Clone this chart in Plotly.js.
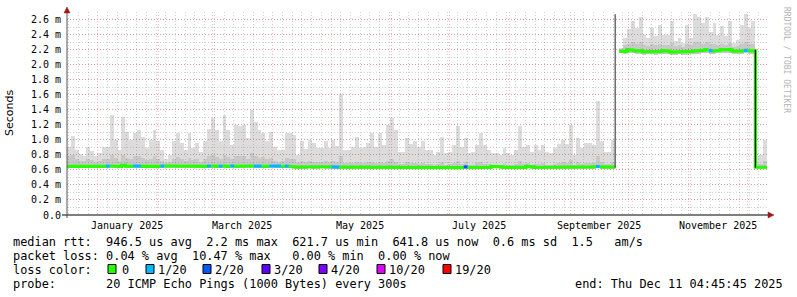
<!DOCTYPE html>
<html>
<head>
<meta charset="utf-8">
<script src="https://cdn.plot.ly/plotly-3.0.1.min.js"></script>
<style>
html,body{margin:0;padding:0;background:#fff;}
#chart{width:797px;height:297px;}
</style>
</head>
<body>
<div id="chart"></div>
<script>
// ---------------- DATA ----------------
const endTime = '2025-12-11T04:45:45';
const spanDays = 360;
const stepDays = 2;

const smokeMax = [
 0.90,1.05,0.87,0.81,0.79,0.90,0.85,0.79,0.82,0.90,
 0.90,1.33,1.00,0.87,1.30,1.10,1.00,1.09,1.13,1.04,
 0.89,1.00,1.13,0.98,0.86,0.75,0.80,0.98,1.09,0.96,
 0.87,1.09,0.89,0.96,0.84,0.98,1.15,1.29,1.13,0.98,
 1.33,1.13,0.93,1.20,1.18,1.20,1.02,1.40,1.24,1.13,
 1.09,0.98,1.11,0.91,0.87,0.87,1.09,1.09,1.07,0.80,
 0.98,0.88,1.00,0.96,0.89,0.89,0.98,0.89,1.00,0.92,
 1.61,0.87,0.86,0.90,1.04,0.89,0.90,0.96,1.09,0.91,
 1.09,0.93,1.20,1.29,1.13,0.84,0.84,1.02,0.95,0.98,
 0.91,0.98,0.87,0.86,0.80,0.84,1.04,0.83,0.84,0.93,
 1.18,0.90,1.02,0.82,0.84,0.93,1.09,0.93,0.87,0.82,
 0.82,0.80,0.89,0.82,0.80,0.87,1.18,0.90,0.93,0.84,
 0.93,0.87,0.93,0.84,0.82,0.89,0.94,1.00,0.95,1.20,
 0.80,1.02,0.89,0.96,0.96,0.93,1.51,0.99,0.84,0.84,
 1.00,null,2.22,2.36,2.47,2.58,2.49,2.63,2.40,2.36,
 2.49,2.38,2.53,2.40,2.40,2.58,2.32,2.36,2.29,2.53,
 2.36,2.67,2.64,2.56,2.64,2.44,2.56,2.40,2.51,2.38,
 2.58,2.29,2.33,2.53,2.67,2.49,2.58,0.78,0.80,1.00];

const smokeUpper = [
 0.78,0.80,0.75,0.72,0.72,0.74,0.73,0.71,0.72,0.74,
 0.74,0.80,0.76,0.72,0.80,0.76,0.74,0.78,0.78,0.76,
 0.73,0.75,0.78,0.74,0.72,0.69,0.71,0.74,0.77,0.74,
 0.72,0.76,0.73,0.74,0.71,0.74,0.78,0.80,0.77,0.74,
 0.80,0.77,0.74,0.78,0.78,0.79,0.75,0.82,0.79,0.76,
 0.77,0.74,0.76,0.72,0.71,0.72,0.76,0.75,0.74,0.70,
 0.72,0.70,0.72,0.71,0.70,0.70,0.72,0.70,0.72,0.70,
 0.78,0.69,0.69,0.69,0.71,0.69,0.69,0.70,0.71,0.69,
 0.71,0.69,0.72,0.74,0.71,0.68,0.68,0.70,0.69,0.69,
 0.68,0.69,0.68,0.68,0.67,0.68,0.70,0.67,0.68,0.69,
 0.72,0.68,0.70,0.67,0.67,0.69,0.70,0.68,0.68,0.67,
 0.67,0.67,0.68,0.67,0.67,0.68,0.72,0.68,0.69,0.67,
 0.68,0.68,0.69,0.67,0.67,0.68,0.69,0.70,0.69,0.73,
 0.67,0.70,0.68,0.69,0.69,0.69,0.78,0.70,0.68,0.68,
 0.70,null,2.20,2.26,2.28,2.30,2.28,2.30,2.26,2.25,
 2.28,2.26,2.28,2.26,2.26,2.29,2.25,2.26,2.24,2.28,
 2.26,2.30,2.30,2.28,2.30,2.27,2.28,2.26,2.28,2.26,
 2.29,2.24,2.25,2.28,2.30,2.27,2.28,0.68,0.68,0.72];

const smokeMin = [
 0.625,0.622,0.628,0.624,0.622,0.626,0.624,0.627,0.623,0.625,
 0.626,0.624,0.622,0.620,0.640,0.626,0.624,0.625,0.624,0.622,
 0.624,0.622,0.626,0.624,0.625,0.628,0.622,0.620,0.624,0.623,
 0.622,0.626,0.622,0.624,0.620,0.623,0.626,0.628,0.624,0.625,
 0.626,0.624,0.627,0.622,0.624,0.626,0.624,0.628,0.626,0.627,
 0.624,0.622,0.628,0.626,0.625,0.622,0.626,0.624,0.616,0.612,
 0.616,0.618,0.620,0.618,0.616,0.619,0.617,0.618,0.616,0.614,
 0.614,0.610,0.608,0.607,0.608,0.606,0.607,0.608,0.606,0.607,
 0.608,0.607,0.606,0.608,0.607,0.606,0.607,0.608,0.606,0.607,
 0.608,0.607,0.606,0.608,0.607,0.606,0.607,0.608,0.606,0.607,
 0.608,0.606,0.616,0.609,0.607,0.608,0.606,0.607,0.608,0.621,
 0.626,0.616,0.608,0.607,0.606,0.608,0.607,0.609,0.621,0.616,
 0.608,0.607,0.606,0.608,0.607,0.606,0.607,0.608,0.606,0.607,
 0.608,0.611,0.612,0.610,0.616,0.618,0.621,0.616,0.614,0.612,
 0.614,null,2.150,2.140,2.160,2.150,2.140,2.145,2.130,2.135,
 2.140,2.130,2.135,2.145,2.140,2.125,2.130,2.135,2.125,2.130,
 2.135,2.140,2.145,2.150,2.160,2.145,2.140,2.150,2.160,2.155,
 2.160,2.140,2.135,2.140,2.150,2.145,2.140,0.610,0.612,0.612];

const median = [
 0.648,0.645,0.650,0.647,0.644,0.648,0.646,0.649,0.645,0.647,
 0.650,0.652,0.646,0.644,0.662,0.650,0.648,0.652,0.650,0.646,
 0.648,0.645,0.649,0.647,0.650,0.652,0.646,0.644,0.648,0.647,
 0.645,0.649,0.646,0.648,0.644,0.647,0.650,0.652,0.648,0.649,
 0.650,0.648,0.651,0.647,0.649,0.650,0.648,0.652,0.650,0.651,
 0.648,0.646,0.652,0.650,0.649,0.646,0.650,0.648,0.640,0.636,
 0.640,0.642,0.644,0.642,0.640,0.643,0.641,0.642,0.640,0.638,
 0.638,0.634,0.632,0.631,0.632,0.630,0.631,0.632,0.630,0.631,
 0.632,0.631,0.630,0.632,0.631,0.630,0.631,0.632,0.630,0.631,
 0.632,0.631,0.630,0.632,0.631,0.630,0.631,0.632,0.630,0.631,
 0.632,0.630,0.640,0.633,0.631,0.632,0.630,0.631,0.632,0.645,
 0.650,0.640,0.632,0.631,0.630,0.632,0.631,0.633,0.645,0.640,
 0.632,0.631,0.630,0.632,0.631,0.630,0.631,0.632,0.630,0.631,
 0.632,0.635,0.636,0.634,0.640,0.642,0.645,0.640,0.638,0.636,
 0.638,null,2.180,2.175,2.200,2.190,2.180,2.185,2.170,2.175,
 2.180,2.170,2.175,2.185,2.180,2.165,2.170,2.175,2.165,2.170,
 2.175,2.180,2.185,2.190,2.200,2.185,2.180,2.190,2.200,2.195,
 2.200,2.180,2.175,2.180,2.190,2.185,2.180,0.635,0.635,0.635];

// number of lost pings (out of 20) per step
const loss = [
 0,0,0,0,0,0,0,0,0,0,
 1,0,0,0,0,0,0,1,1,0,
 0,0,0,0,1,0,0,0,0,0,
 0,0,0,0,0,0,1,0,0,1,
 0,0,1,0,0,0,0,0,1,1,
 0,0,1,1,1,0,1,0,0,0,
 0,0,0,0,0,0,0,0,1,1,
 0,0,0,0,0,0,0,0,0,0,
 0,0,0,0,0,0,0,0,0,0,
 0,0,0,0,0,0,0,0,0,0,
 0,0,2,0,0,0,0,0,0,0,
 0,0,0,0,0,0,0,0,0,0,
 0,0,0,0,0,0,0,0,0,0,
 0,0,0,0,0,0,1,0,0,0,
 0,0,0,0,0,0,0,0,0,0,
 0,0,0,0,0,0,0,0,0,0,
 0,0,0,0,0,1,0,0,0,0,
 0,0,0,0,1,0,0,0,0,0];

// level shifts drawn as thin vertical strokes
const shiftTimes = ['2025-09-24T03:00:00', '2025-12-05T06:00:00'];
const shiftLow   = [0.63, 0.63];
const shiftHigh  = [2.67, 2.20];
const shiftColor = ['#555555', '#111111'];

const lossLevels = [0, 1, 2, 3, 4, 10, 19];
const lossColors = ['#26ff00', '#00b8ff', '#0059ff', '#5e00ff', '#7e00ff', '#dd00ff', '#ff0000'];
const lossLabels = ['0', '1/20', '2/20', '3/20', '4/20', '10/20', '19/20'];

const yTickVals = [0, 0.2, 0.4, 0.6, 0.8, 1.0, 1.2, 1.4, 1.6, 1.8, 2.0, 2.2, 2.4, 2.6];
const yTickText = ['0.0', '0.2 m', '0.4 m', '0.6 m', '0.8 m', '1.0 m', '1.2 m', '1.4 m', '1.6 m', '1.8 m', '2.0 m', '2.2 m', '2.4 m', '2.6 m'];

const monthLabelStarts = ['2025-01-01', '2025-03-01', '2025-05-01', '2025-07-01', '2025-09-01', '2025-11-01'];
const monthLabelText = ['January 2025', 'March 2025', 'May 2025', 'July 2025', 'September 2025', 'November 2025'];

const legendLine1 = 'median rtt:  946.5 us avg  2.2 ms max  621.7 us min  641.8 us now  0.6 ms sd  1.5   am/s';
const legendLine2 = 'packet loss: 0.04 % avg  10.47 % max   0.00 % min  0.00 % now';
const legendLine3Head = 'loss color:';
const legendLine4 = 'probe:       20 ICMP Echo Pings (1000 Bytes) every 300s';
const legendEnd = 'end: Thu Dec 11 04:45:45 2025';
const watermark = 'RRDTOOL / TOBI OETIKER';

// ---------------- BUILD ----------------
const DAY = 86400000;
function parseLocal(s){ return Date.parse(s + 'Z'); }
function fmt(ms){ return new Date(ms).toISOString().slice(0,19).replace('T',' '); }
const endMs = parseLocal(endTime);
const startMs = endMs - spanDays * DAY;
const n = smokeMax.length;
const stepMs = stepDays * DAY;
const centers = [], lowEdge = [];
for (let i = 0; i < n; i++) { centers.push(fmt(startMs + (i + 0.5) * stepMs)); lowEdge.push(startMs + i * stepMs); }

const traces = [];
traces.push({
  type: 'bar', x: centers, base: smokeMin,
  y: smokeMax.map((v, i) => v == null ? null : v - smokeMin[i]),
  width: stepMs, marker: {color: 'rgba(120,120,120,0.26)', line: {width: 0}},
  hoverinfo: 'skip', showlegend: false
});
traces.push({
  type: 'bar', x: centers, base: smokeMin,
  y: smokeUpper.map((v, i) => v == null ? null : v - smokeMin[i]),
  width: stepMs, marker: {color: 'rgba(70,70,70,0.13)', line: {width: 0}},
  hoverinfo: 'skip', showlegend: false
});
lossLevels.forEach((lvl, k) => {
  const xs = [], ys = [];
  let prev = false;
  for (let i = 0; i < n; i++) {
    if (median[i] != null && loss[i] === lvl) {
      xs.push(fmt(lowEdge[i]), fmt(lowEdge[i] + stepMs));
      ys.push(median[i], median[i]);
      prev = true;
    } else if (prev) { xs.push(null); ys.push(null); prev = false; }
  }
  if (xs.length) traces.push({
    type: 'scatter', mode: 'lines', x: xs, y: ys, connectgaps: false,
    line: {color: lossColors[k], width: 3.2}, hoverinfo: 'skip', showlegend: false
  });
});
shiftTimes.forEach((t, k) => {
  traces.push({
    type: 'scatter', mode: 'lines', x: [t, t], y: [shiftLow[k], shiftHigh[k]],
    line: {color: shiftColor[k], width: 1.3}, hoverinfo: 'skip', showlegend: false
  });
});

const L = 67, T = 12, W = 700, H = 203;
const px = x => (x - L) / W;
const py = y => (T + H - y) / H;

const mono = 'DejaVu Sans Mono, monospace';
const nb = s => s.replace(/ /g, '\u00a0');
const annotations = [];
monthLabelStarts.forEach((m, k) => {
  annotations.push({
    xref: 'x', yref: 'paper', x: fmt(parseLocal(m + 'T00:00:00') + 15 * DAY), y: py(225.5),
    text: nb(monthLabelText[k]), showarrow: false, xanchor: 'center', yanchor: 'middle',
    font: {family: mono, size: 10, color: '#000'}
  });
});
const legFont = {family: mono, size: 11.9, color: '#000'};
[[legendLine1, 241.5], [legendLine2, 255.5], [legendLine3Head, 269.5], [legendLine4, 283.5]].forEach(([t, y]) => {
  annotations.push({xref: 'paper', yref: 'paper', x: px(13), y: py(y), text: nb(t), showarrow: false,
    xanchor: 'left', yanchor: 'middle', font: legFont, borderpad: 0, borderwidth: 0});
});
annotations.push({xref: 'paper', yref: 'paper', x: px(783), y: py(283.5), text: nb(legendEnd), showarrow: false,
  xanchor: 'right', yanchor: 'middle', font: legFont, borderpad: 0, borderwidth: 0});
annotations.push({xref: 'paper', yref: 'paper', x: px(10), y: py(113), text: 'Seconds', showarrow: false,
  textangle: -90, xanchor: 'center', yanchor: 'middle', font: {family: 'DejaVu Sans, sans-serif', size: 11, color: '#000'}});
annotations.push({xref: 'paper', yref: 'paper', x: px(787), y: py(60), text: nb(watermark), showarrow: false,
  textangle: 90, xanchor: 'center', yanchor: 'middle', font: {family: mono, size: 8, color: '#b4b4b4'}});

const shapes = [];
const boxX = [108, 146, 203, 262, 319, 377, 443];
const labX = [122, 158, 215, 274, 331, 389, 455];
lossColors.forEach((c, k) => {
  shapes.push({type: 'rect', xref: 'paper', yref: 'paper', x0: px(boxX[k]), x1: px(boxX[k] + 8),
    y0: py(273.5), y1: py(264.5), fillcolor: c, line: {color: '#000', width: 1}});
  annotations.push({xref: 'paper', yref: 'paper', x: px(labX[k]), y: py(269.5), text: nb(lossLabels[k]),
    showarrow: false, xanchor: 'left', yanchor: 'middle', font: legFont, borderpad: 0, borderwidth: 0});
});
shapes.push({type: 'line', xref: 'paper', yref: 'paper', x0: px(62), x1: px(769), y0: py(215), y1: py(215), line: {color: '#000', width: 1}});
shapes.push({type: 'line', xref: 'paper', yref: 'paper', x0: px(67), x1: px(67), y0: py(218), y1: py(11), line: {color: '#555', width: 1}});
shapes.push({type: 'path', xref: 'paper', yref: 'paper',
  path: `M ${px(768)} ${py(212)} L ${px(774)} ${py(215)} L ${px(768)} ${py(218)} Z`,
  fillcolor: '#a01818', line: {color: '#a01818', width: 0.5}});
shapes.push({type: 'path', xref: 'paper', yref: 'paper',
  path: `M ${px(64)} ${py(13)} L ${px(67)} ${py(7)} L ${px(70)} ${py(13)} Z`,
  fillcolor: '#a01818', line: {color: '#a01818', width: 0.5}});

const layout = {
  width: 797, height: 297,
  margin: {l: L, r: 797 - L - W, t: T, b: 297 - T - H, pad: 0},
  paper_bgcolor: '#ffffff', plot_bgcolor: '#ffffff',
  showlegend: false, barmode: 'overlay', bargap: 0,
  xaxis: {
    type: 'date', range: [fmt(startMs), fmt(endMs)], fixedrange: true,
    tick0: '2025-01-01', dtick: 'M1', showticklabels: false, ticks: '',
    showgrid: true, gridcolor: 'rgba(230,0,0,0.27)', griddash: '1px,2px', gridwidth: 1,
    minor: {dtick: 5 * DAY, tick0: '2024-12-17', showgrid: true, gridcolor: 'rgba(110,110,110,0.3)', griddash: '1px,2px', gridwidth: 1},
    showline: false, zeroline: false
  },
  yaxis: {
    range: [0, 2.7], fixedrange: true,
    tickvals: yTickVals, ticktext: yTickText, ticks: '',
    tickfont: {family: mono, size: 10, color: '#000'},
    showgrid: true, gridcolor: 'rgba(230,0,0,0.27)', griddash: '1px,2px', gridwidth: 1,
    minor: {dtick: 0.1, tick0: 0, showgrid: true, gridcolor: 'rgba(110,110,110,0.3)', griddash: '1px,2px', gridwidth: 1},
    showline: false, zeroline: false, ticklabelstandoff: 5
  },
  annotations: annotations, shapes: shapes
};

Plotly.newPlot('chart', traces, layout, {staticPlot: true, displayModeBar: false});
</script>
</body>
</html>
